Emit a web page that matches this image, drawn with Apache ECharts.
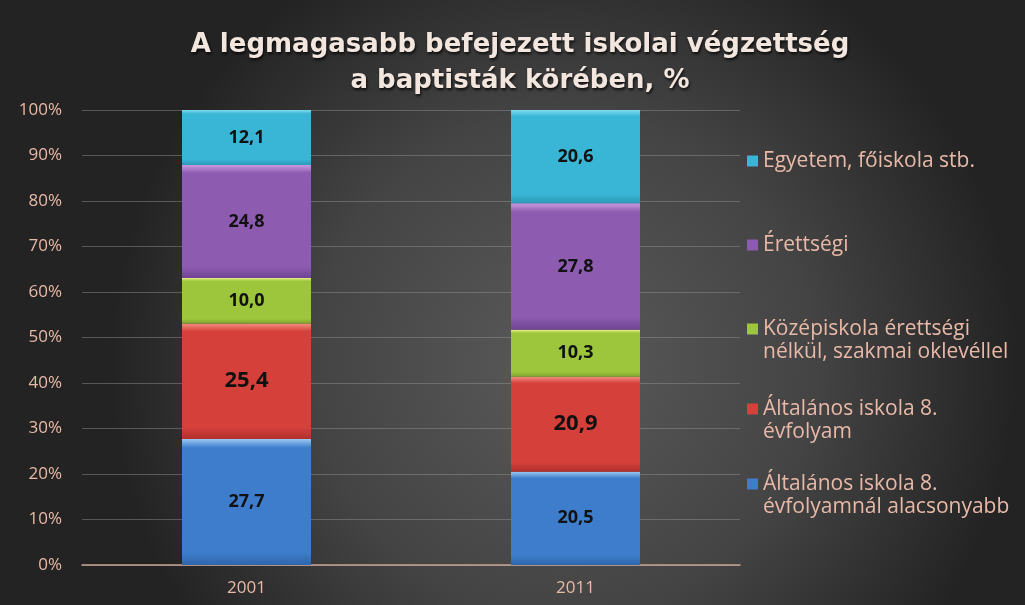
<!DOCTYPE html>
<html lang="hu">
<head>
    <meta charset="UTF-8">
    <title>Végzettség</title>
    <script src="https://cdn.jsdelivr.net/npm/echarts@6/dist/echarts.min.js"></script>
    <style>
        html, body { margin: 0; padding: 0; background: #333; }
        #main { width: 1025px; height: 605px; }
    </style>
</head>
<body>
    <div id="main"></div>
    <script>
        // adatok
        var years = ['2001', '2011'];
        var seriesNames = [
            'Általános iskola 8.\névfolyamnál alacsonyabb',
            'Általános iskola 8.\névfolyam',
            'Középiskola érettségi\nnélkül, szakmai oklevéllel',
            'Érettségi',
            'Egyetem, főiskola stb.'
        ];
        var belowEight = [27.7, 20.5];
        var eightGrade = [25.4, 20.9];
        var vocational = [10.0, 10.3];
        var matura = [24.8, 27.8];
        var university = [12.1, 20.6];
        var yTicks = [0, 10, 20, 30, 40, 50, 60, 70, 80, 90, 100];

        var seriesData = [belowEight, eightGrade, vocational, matura, university];
        // [highlight, base, dark]
        var colors = [
            ['#9cc8f2', '#3d7dcb', '#2f66ad'],
            ['#f29080', '#d6403b', '#b0302c'],
            ['#eaf58a', '#9dc63d', '#7fa42c'],
            ['#c89ae0', '#8d5cb0', '#704494'],
            ['#7fdcf2', '#39b5d5', '#2b98b8']
        ];
        // y of the first legend line, per series (bottom series last)
        var legendTops = [482, 407, 327, 243, 159];
        var salmon = '#e9b9a8';

        function barColor(c) {
            return new echarts.graphic.LinearGradient(0, 0, 0, 1, [
                { offset: 0, color: c[0] },
                { offset: 0.07, color: c[1] },
                { offset: 0.9, color: c[1] },
                { offset: 1, color: c[2] }
            ]);
        }

        var myChart = echarts.init(document.getElementById('main'));

        var series = seriesData.map(function (d, i) {
            return {
                name: seriesNames[i],
                type: 'bar',
                stack: 'total',
                barWidth: 129,
                data: d,
                itemStyle: { color: barColor(colors[i]) },
                label: {
                    show: true,
                    position: 'inside',
                    color: '#111',
                    fontFamily: 'Open Sans',
                    fontWeight: 'bold',
                    fontSize: i === 1 ? 22 : 18,
                    formatter: function (p) { return p.value.toFixed(1).replace('.', ','); }
                }
            };
        });

        var legendFont = { color: salmon, fontFamily: 'Open Sans', fontSize: 21 };

        // one legend per item, first line only
        var legends = seriesNames.map(function (name, i) {
            return {
                orient: 'vertical',
                left: 742,
                top: legendTops[i] - 18,
                data: [{ name: name, icon: 'rect', itemStyle: { color: colors[i][1] } }],
                itemWidth: 11,
                itemHeight: 11,
                selectedMode: false,
                formatter: function (n) { return n.split('\n')[0]; },
                textStyle: Object.assign({ lineHeight: 30 }, legendFont)
            };
        });

        // second lines of the legend labels
        var secondLines = [];
        seriesNames.forEach(function (name, i) {
            var parts = name.split('\n');
            if (parts.length > 1) {
                secondLines.push({
                    type: 'text',
                    left: 763,
                    top: legendTops[i] + 30 - 15,
                    style: { text: parts[1], fill: salmon, font: '21px "Open Sans"' }
                });
            }
        });

        var option = {
            backgroundColor: new echarts.graphic.RadialGradient(0.55, 0.6, 0.75, [
                { offset: 0, color: '#5a5a5a' },
                { offset: 0.55, color: '#444444' },
                { offset: 1, color: '#232323' }
            ]),
            title: {
                text: 'A legmagasabb befejezett iskolai végzettség\na baptisták körében, %',
                left: 515,
                top: 22,
                textAlign: 'center',
                textStyle: {
                    color: '#f3e6de',
                    fontFamily: 'DejaVu Sans',
                    fontWeight: 'bold',
                    fontSize: 26,
                    lineHeight: 36,
                    textShadowColor: 'rgba(0,0,0,0.8)',
                    textShadowBlur: 3,
                    textShadowOffsetX: 1,
                    textShadowOffsetY: 2
                }
            },
            legend: legends,
            graphic: secondLines,
            grid: { left: 82, right: 285, top: 110, bottom: 40 },
            xAxis: {
                type: 'category',
                data: years,
                axisLine: { lineStyle: { color: '#c9a497', width: 1.5 } },
                axisTick: { show: false },
                axisLabel: { color: salmon, fontFamily: 'Open Sans', fontSize: 17, margin: 15 }
            },
            yAxis: {
                type: 'value',
                min: yTicks[0],
                max: yTicks[yTicks.length - 1],
                interval: 10,
                axisLine: { show: false },
                axisTick: { show: false },
                splitLine: { lineStyle: { color: 'rgba(150,150,150,0.45)', width: 1 } },
                axisLabel: { color: salmon, fontFamily: 'Open Sans', fontSize: 17, margin: 20, formatter: '{value}%' }
            },
            series: series
        };

        myChart.setOption(option);
    </script>
</body>
</html>
